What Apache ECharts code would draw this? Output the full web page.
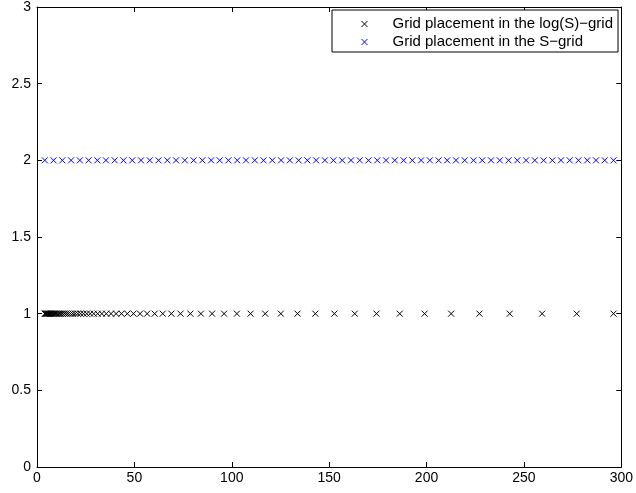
<!DOCTYPE html>
<html>
<head>
<meta charset="utf-8">
<script src="https://cdn.jsdelivr.net/npm/echarts@6/dist/echarts.min.js"></script>
<style>
  html, body { margin: 0; padding: 0; background: #fff; }
  #chart { width: 636px; height: 493px; }
</style>
</head>
<body>
<div id="chart"></div>
<script>
// Node positions along S for the two grids
const logGridS = [
  4.00, 4.27, 4.57, 4.88, 5.21, 5.57, 5.95, 6.36, 6.79, 7.26,
  7.76, 8.29, 8.85, 9.46, 10.11, 10.80, 11.54, 12.33, 13.17, 14.08,
  15.04, 16.07, 17.17, 18.35, 19.60, 20.94, 22.38, 23.91, 25.55, 27.30,
  29.16, 31.16, 33.29, 35.57, 38.01, 40.61, 43.39, 46.36, 49.53, 52.92,
  56.55, 60.42, 64.56, 68.98, 73.70, 78.75, 84.14, 89.90, 96.05, 102.63,
  109.65, 117.16, 125.18, 133.75, 142.90, 152.69, 163.14, 174.31, 186.24, 198.99,
  212.62, 227.17, 242.72, 259.34, 277.10, 296.00
];
const sGridS = [
  4.0, 8.5, 13.0, 17.5, 22.0, 26.5, 31.0, 35.4, 39.9, 44.4,
  48.9, 53.4, 57.9, 62.4, 66.9, 71.4, 75.9, 80.4, 84.9, 89.4,
  93.8, 98.3, 102.8, 107.3, 111.8, 116.3, 120.8, 125.3, 129.8, 134.3,
  138.8, 143.3, 147.8, 152.2, 156.7, 161.2, 165.7, 170.2, 174.7, 179.2,
  183.7, 188.2, 192.7, 197.2, 201.7, 206.2, 210.6, 215.1, 219.6, 224.1,
  228.6, 233.1, 237.6, 242.1, 246.6, 251.1, 255.6, 260.1, 264.6, 269.0,
  273.5, 278.0, 282.5, 287.0, 291.5, 296.0
];
// Row each grid is drawn on
const logGridLevel = [1];
const sGridLevel = [2];
const seriesNames = ['Grid placement in the log(S)\u2212grid', 'Grid placement in the S\u2212grid'];
const seriesColors = ['#000000', '#0000ff'];
const xTicks = [0, 50, 100, 150, 200, 250, 300];
const yTicks = [0, 0.5, 1, 1.5, 2, 2.5, 3];

const FONT = 'Liberation Sans, Arial, Helvetica, sans-serif';
const FS = 14;
const LEGEND_FS = 15;
const CROSS = 'path://M0,0L10,10M0,10L10,0';

const chart = echarts.init(document.getElementById('chart'), null, { renderer: 'canvas' });

function axisBase(showLabel, pos, ticks) {
  return {
    type: 'value',
    position: pos,
    min: ticks[0],
    max: ticks[ticks.length - 1],
    interval: ticks[1] - ticks[0],
    axisLine: { show: true, onZero: false, lineStyle: { color: '#000', width: 1 } },
    axisTick: { show: true, inside: true, length: 5, lineStyle: { color: '#000', width: 1 } },
    axisLabel: {
      show: showLabel,
      color: '#000',
      fontFamily: FONT,
      fontSize: FS,
      margin: 6,
      showMinLabel: true,
      showMaxLabel: true,
      formatter: v => String(v)
    },
    splitLine: { show: false }
  };
}

const xBottom = axisBase(true, 'bottom', xTicks);
xBottom.axisLabel.margin = 4;
const xTop = axisBase(false, 'top', xTicks);
const yLeft = axisBase(true, 'left', yTicks);
const yRight = axisBase(false, 'right', yTicks);

function crossSeries(name, xs, level, color) {
  return {
    name: name,
    type: 'scatter',
    xAxisIndex: 0,
    yAxisIndex: 0,
    symbol: CROSS,
    symbolSize: 6,
    symbolKeepAspect: true,
    itemStyle: { color: 'transparent', borderColor: color, borderWidth: 1, opacity: 1 },
    emphasis: { disabled: true },
    data: xs.map(s => [s, level[0]]),
    animation: false
  };
}

chart.setOption({
  animation: false,
  backgroundColor: '#fff',
  grid: { left: 37, right: 14, top: 2, bottom: 26, containLabel: false },
  xAxis: [xBottom, xTop],
  yAxis: [yLeft, yRight],
  legend: {
    left: 332,
    top: 10,
    orient: 'vertical',
    backgroundColor: '#fff',
    borderColor: '#000',
    borderWidth: 1,
    borderRadius: 0,
    padding: [6, 5, 2, 29],
    itemGap: 2,
    itemWidth: 46,
    itemHeight: 6,
    symbolKeepAspect: true,
    selectedMode: false,
    textStyle: { color: '#000', fontFamily: FONT, fontSize: LEGEND_FS, lineHeight: 16 },
    data: seriesNames.map((n, i) => ({
      name: n,
      icon: CROSS,
      itemStyle: { color: 'transparent', borderColor: seriesColors[i], borderWidth: 1 }
    }))
  },
  series: [
    crossSeries(seriesNames[0], logGridS, logGridLevel, seriesColors[0]),
    crossSeries(seriesNames[1], sGridS, sGridLevel, seriesColors[1])
  ]
});
</script>
</body>
</html>
